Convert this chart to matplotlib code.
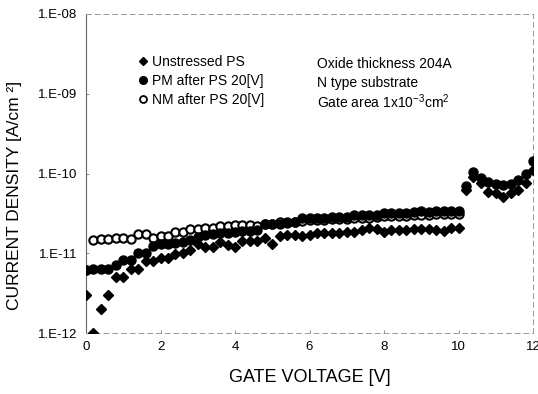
import numpy as np
import matplotlib
matplotlib.use("Agg")
import matplotlib.pyplot as plt
from matplotlib.lines import Line2D

plt.rcParams['font.family'] = ['Liberation Sans', 'DejaVu Sans']
plt.rcParams['mathtext.fontset'] = 'custom'
plt.rcParams['mathtext.rm'] = 'Liberation Sans'
plt.rcParams['mathtext.it'] = 'Liberation Sans'

# gate voltage [V], 0 .. 10 in 0.2 steps, then 10.2 .. 12
v_low = [0.0, 0.2, 0.4, 0.6, 0.8, 1.0, 1.2, 1.4, 1.6, 1.8,
         2.0, 2.2, 2.4, 2.6, 2.8, 3.0, 3.2, 3.4, 3.6, 3.8,
         4.0, 4.2, 4.4, 4.6, 4.8, 5.0, 5.2, 5.4, 5.6, 5.8,
         6.0, 6.2, 6.4, 6.6, 6.8, 7.0, 7.2, 7.4, 7.6, 7.8,
         8.0, 8.2, 8.4, 8.6, 8.8, 9.0, 9.2, 9.4, 9.6, 9.8, 10.0]
v_high = [10.2, 10.4, 10.6, 10.8, 11.0, 11.2, 11.4, 11.6, 11.8, 12.0]

# current density [A/cm^2]
unstressed = [3.0e-12, 1.0e-12, 2.0e-12, 3.0e-12, 5.1e-12, 5.1e-12, 6.3e-12, 6.3e-12, 8.1e-12, 7.9e-12,
              8.8e-12, 8.8e-12, 9.7e-12, 1.0e-11, 1.1e-11, 1.3e-11, 1.21e-11, 1.21e-11, 1.37e-11, 1.27e-11,
              1.21e-11, 1.44e-11, 1.44e-11, 1.44e-11, 1.55e-11, 1.31e-11, 1.64e-11, 1.70e-11, 1.70e-11, 1.65e-11,
              1.70e-11, 1.78e-11, 1.78e-11, 1.78e-11, 1.78e-11, 1.83e-11, 1.87e-11, 1.93e-11, 2.06e-11, 2.00e-11,
              1.87e-11, 1.93e-11, 1.93e-11, 1.93e-11, 2.0e-11, 2.0e-11, 2.0e-11, 1.93e-11, 1.9e-11, 2.1e-11, 2.06e-11,
              6.2e-11, 9.0e-11, 7.5e-11, 5.9e-11, 5.65e-11, 5.1e-11, 5.65e-11, 6.2e-11, 7.5e-11, 1.1e-10]

pm_after = [6.2e-12, 6.4e-12, 6.4e-12, 6.4e-12, 7.1e-12, 8.2e-12, 8.2e-12, 1.0e-11, 1.0e-11, 1.24e-11,
            1.3e-11, 1.3e-11, 1.35e-11, 1.38e-11, 1.45e-11, 1.61e-11, 1.69e-11, 1.73e-11, 1.78e-11, 1.78e-11,
            1.87e-11, 1.92e-11, 1.92e-11, 1.97e-11, 2.33e-11, 2.33e-11, 2.33e-11, 2.4e-11, 2.47e-11, 2.74e-11,
            2.78e-11, 2.8e-11, 2.8e-11, 2.82e-11, 2.85e-11, 2.88e-11, 3.0e-11, 3.0e-11, 3.0e-11, 3.05e-11,
            3.16e-11, 3.16e-11, 3.18e-11, 3.2e-11, 3.25e-11, 3.4e-11, 3.3e-11, 3.35e-11, 3.4e-11, 3.43e-11, 3.43e-11,
            7.0e-11, 1.05e-10, 8.7e-11, 7.8e-11, 7.4e-11, 7.2e-11, 7.4e-11, 8.3e-11, 1.0e-10, 1.45e-10]

nm_after = [6.2e-12, 1.47e-11, 1.5e-11, 1.5e-11, 1.57e-11, 1.57e-11, 1.5e-11, 1.73e-11, 1.73e-11, 1.57e-11,
            1.66e-11, 1.66e-11, 1.83e-11, 1.87e-11, 1.99e-11, 1.99e-11, 2.07e-11, 2.07e-11, 2.2e-11, 2.2e-11,
            2.26e-11, 2.26e-11, 2.26e-11, 2.2e-11, 2.3e-11, 2.3e-11, 2.49e-11, 2.5e-11, 2.5e-11, 2.55e-11,
            2.6e-11, 2.62e-11, 2.62e-11, 2.65e-11, 2.68e-11, 2.7e-11, 2.75e-11, 2.78e-11, 2.8e-11, 2.85e-11,
            2.9e-11, 2.92e-11, 2.95e-11, 2.95e-11, 3.0e-11, 3.05e-11, 3.05e-11, 3.1e-11, 3.12e-11, 3.15e-11, 3.15e-11]

yticks = [1e-12, 1e-11, 1e-10, 1e-9, 1e-8]
ytick_labels = ["1.E-12", "1.E-11", "1.E-10", "1.E-09", "1.E-08"]
xticks = [0, 2, 4, 6, 8, 10, 12]

v_all = v_low + v_high

fig = plt.figure(figsize=(5.38, 3.94), dpi=100)
ax = fig.add_axes([86/538, 1-333/394, (533-86)/538, (333-14)/394])

ax.plot(v_low, nm_after, "o", ms=6, mfc="white", mec="black", mew=1.5, ls="none", zorder=2)
ax.plot(v_all, unstressed, "D", ms=5.5, color="black", ls="none", zorder=3)
ax.plot(v_all, pm_after, "o", ms=6.5, color="black", ls="none", zorder=4)

ax.set_yscale("log")
ax.set_xlim(0, 12)
ax.set_ylim(1e-12, 1e-8)
ax.set_yticks(yticks, ytick_labels)
ax.minorticks_off()
ax.set_xticks(xticks, [str(x) for x in xticks])
ax.tick_params(direction="in", length=2.5, width=0.6, color="#777777", labelsize=9.5, pad=6)

for side in ["top", "bottom", "right"]:
    ax.spines[side].set_linestyle((0, (5, 4)))
    ax.spines[side].set_color("#999999")
    ax.spines[side].set_linewidth(0.7)
ax.spines["left"].set_color("#666666")
ax.spines["left"].set_linewidth(0.8)

ax.set_xlabel("GATE VOLTAGE [V]", fontsize=13, labelpad=11)
fig.text(15/538, 1-195/394, "CURRENT DENSITY [A/cm \u00b2]", rotation=90,
         fontsize=12.5, ha="center", va="center")

handles = [Line2D([], [], marker="D", color="black", ls="none", ms=4.5),
           Line2D([], [], marker="o", color="black", ls="none", ms=5.5),
           Line2D([], [], marker="o", mfc="white", mec="black", mew=1.3, ls="none", ms=5)]
labels = ["Unstressed PS", "PM after PS 20[V]", "NM after PS 20[V]"]
fig.legend(handles, labels, loc="upper left", bbox_to_anchor=(137/538, 1-55/394),
           frameon=False, fontsize=10, handlelength=0.8, handletextpad=0.3,
           borderpad=0, borderaxespad=0, labelspacing=0.35)

info = ["Oxide thickness 204A", "N type substrate", r"Gate area 1x10$^{-3}$cm$^{2}$"]
for i, line in enumerate(info):
    fig.text(317/538, 1-(64+19*i)/394, line, fontsize=10, ha="left", va="center")

fig.savefig("out.png", dpi=100)
